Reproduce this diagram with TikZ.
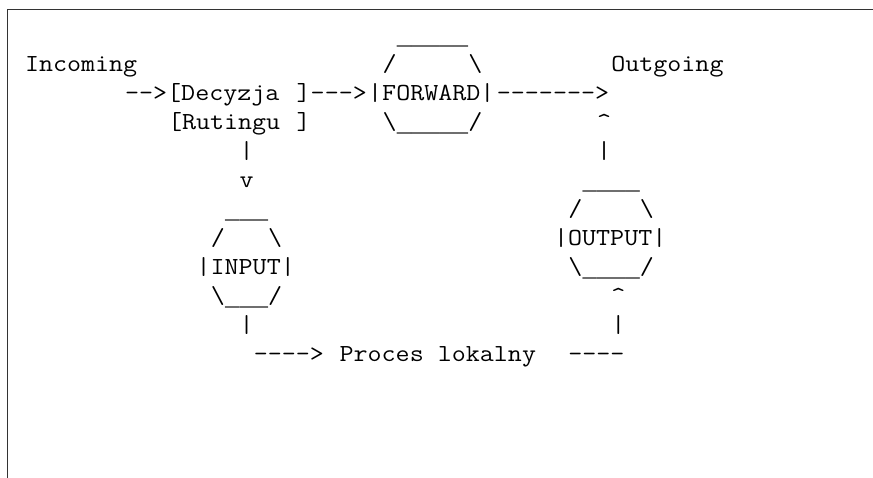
\documentclass[tikz,border=0pt]{standalone}
\usepackage{fontspec}
\setmonofont[FakeStretch=1.112]{Latin Modern Mono}
\newfontfamily\usfont{Liberation Mono}
\begin{document}
\begin{tikzpicture}[x=1pt,y=-1pt,
  ch/.style={anchor=base west,inner sep=0pt,outer sep=0pt,text=black,
    font=\ttfamily\fontsize{24.5pt}{29pt}\selectfont},
  frameline/.style={draw=black!80,line width=1.6pt}]
\useasboundingbox (0,0) rectangle (873,478);
\newcommand\asciiput[4]{\node[ch] (#1) at ({25+#2*14.3},{72+(#3-1)*29}) {#4};}
\newcommand\usc[1]{\raisebox{-1.5pt}{\usfont\fontsize{23.83pt}{29pt}\selectfont\foreach\k in {1,...,#1}{\_}}}
% frame
\coordinate (tr) at (873,9.5);
\coordinate (tl) at (7.5,9.5);
\coordinate (bl) at (7.5,478);
\draw[frameline] (tr) -- (tl) -- (bl);
% row 0
\asciiput{fwtop}{26}{0}{\usc{5}}
% row 1
\asciiput{incoming}{0}{1}{Incoming}
\asciiput{fwtl}{25}{1}{/}
\asciiput{fwtr}{31}{1}{\textbackslash}
\asciiput{outgoing}{41}{1}{Outgoing}
% row 2
\asciiput{inarrow}{7}{2}{-->[Decyzja}
\asciiput{decr}{19}{2}{]--->}
\asciiput{forward}{24}{2}{|FORWARD|}
\asciiput{fwout}{33}{2}{------->}
% row 3
\asciiput{rut}{10}{3}{[Rutingu}
\asciiput{rutr}{19}{3}{]}
\asciiput{fwbotl}{25}{3}{\textbackslash}
\asciiput{fwbot}{26}{3}{\usc{5}}
\asciiput{fwbotr}{31}{3}{/}
\asciiput{outup}{40}{3}{\textasciicircum}
% row 4
\asciiput{dnone}{15}{4}{|}
\asciiput{upone}{40}{4}{|}
% row 5
\asciiput{dntwo}{15}{5}{v}
\asciiput{outtop}{39}{5}{\usc{4}}
% row 6
\asciiput{intop}{14}{6}{\usc{3}}
\asciiput{outtl}{38}{6}{/}
\asciiput{outtr}{43}{6}{\textbackslash}
% row 7
\asciiput{intl}{13}{7}{/}
\asciiput{intr}{17}{7}{\textbackslash}
\asciiput{output}{37}{7}{|OUTPUT|}
% row 8
\asciiput{input}{12}{8}{|INPUT|}
\asciiput{outbotl}{38}{8}{\textbackslash}
\asciiput{outbot}{39}{8}{\usc{4}}
\asciiput{outbotr}{43}{8}{/}
% row 9
\asciiput{inbotl}{13}{9}{\textbackslash}
\asciiput{inbot}{14}{9}{\usc{3}}
\asciiput{inbotr}{17}{9}{/}
\asciiput{outin}{41}{9}{\textasciicircum}
% row 10
\asciiput{inl}{15}{10}{|}
\asciiput{outl}{41}{10}{|}
% row 11
\asciiput{locarrow}{16}{11}{---->}
\asciiput{proces}{22}{11}{Proces lokalny}
\asciiput{locout}{38}{11}{----}
\end{tikzpicture}
\end{document}
